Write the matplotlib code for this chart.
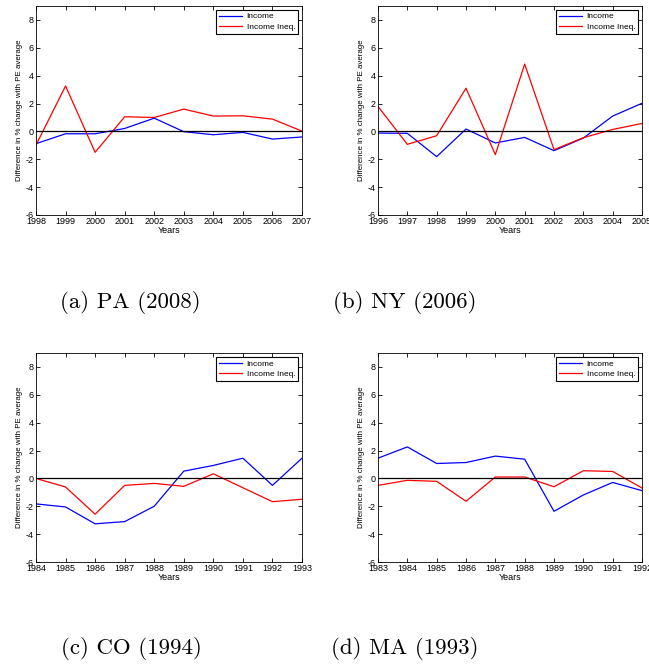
import matplotlib
matplotlib.use("Agg")
import matplotlib.pyplot as plt

plt.rcParams['font.family'] = ['Liberation Sans', 'DejaVu Sans']
plt.rcParams['axes.unicode_minus'] = False

years_pa = list(range(1998, 2008))
income_pa = [-0.88, -0.17, -0.17, 0.21, 0.95, -0.02, -0.24, -0.07, -0.55, -0.4]
ineq_pa = [-0.98, 3.26, -1.5, 1.05, 1.0, 1.6, 1.1, 1.12, 0.88, 0.02]

years_ny = list(range(1996, 2006))
income_ny = [-0.12, -0.14, -1.81, 0.17, -0.83, -0.43, -1.38, -0.48, 1.1, 2.02]
ineq_ny = [1.79, -0.93, -0.31, 3.1, -1.67, 4.83, -1.31, -0.45, 0.14, 0.57]

years_co = list(range(1984, 1994))
income_co = [-1.83, -2.05, -3.26, -3.1, -2.0, 0.52, 0.93, 1.45, -0.5, 1.45]
ineq_co = [0.0, -0.62, -2.57, -0.5, -0.36, -0.57, 0.33, -0.67, -1.67, -1.5]

years_ma = list(range(1983, 1993))
income_ma = [1.45, 2.26, 1.07, 1.14, 1.6, 1.38, -2.36, -1.19, -0.29, -0.88]
ineq_ma = [-0.5, -0.14, -0.21, -1.64, 0.1, 0.1, -0.6, 0.55, 0.5, -0.69]

captions = ["(a) PA (2008)", "(b) NY (2006)", "(c) CO (1994)", "(d) MA (1993)"]

panels = [
    (years_pa, income_pa, ineq_pa),
    (years_ny, income_ny, ineq_ny),
    (years_co, income_co, ineq_co),
    (years_ma, income_ma, ineq_ma),
]

fig = plt.figure(figsize=(6.49, 6.66), dpi=100)
W, H = 649, 666
# axes boxes in pixels: left, top, right, bottom
boxes = [(36, 6, 302, 215), (378, 6, 642, 215), (36, 353, 302, 562), (378, 353, 642, 562)]
cap_pos = [(130, 302), (405, 302), (131, 649), (405, 649)]

for (yrs, inc, ineq), (l, t, r, b), cap, (cx, cy) in zip(panels, boxes, captions, cap_pos):
    ax = fig.add_axes([l / W, 1 - b / H, (r - l) / W, (b - t) / H])
    ax.plot(yrs, inc, color="blue", linewidth=0.9, label="Income")
    ax.plot(yrs, ineq, color="red", linewidth=0.9, label="Income Ineq.")
    ax.axhline(0, color="black", linewidth=0.9)
    ax.set_xlim(yrs[0], yrs[-1])
    ax.set_ylim(-6, 9)
    ax.set_xticks(yrs)
    ax.set_yticks(range(-6, 9, 2))
    ax.tick_params(direction="in", top=True, right=True, labelsize=6.5, length=3, width=0.6, pad=1.5)
    for s in ax.spines.values():
        s.set_linewidth(0.6)
    ax.set_xlabel("Years", fontsize=6.5, labelpad=0)
    ax.set_ylabel("Difference in % change with PE average", fontsize=5.7, labelpad=2)
    leg = ax.legend(loc="upper right", fontsize=6, fancybox=False, framealpha=1,
                    borderaxespad=0.45, handlelength=2.8, handletextpad=0.5,
                    borderpad=0.35, labelspacing=0.3)
    leg.get_frame().set_edgecolor("black")
    leg.get_frame().set_linewidth(0.8)
    fig.text(cx / W, 1 - cy / H, cap, family="cmr10", fontsize=16.5, ha="center", va="center")

fig.savefig("out.png", dpi=100)
